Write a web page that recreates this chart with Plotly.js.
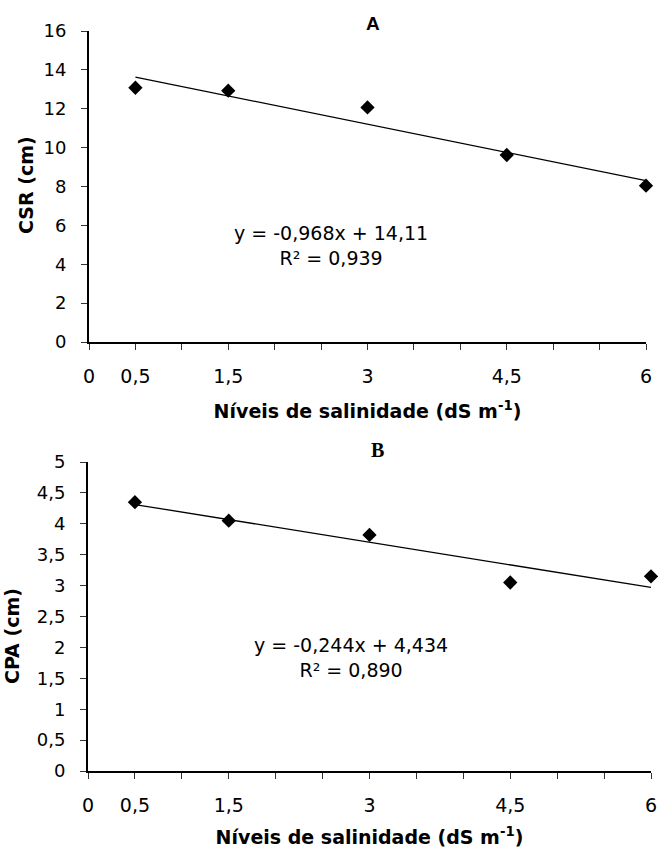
<!DOCTYPE html>
<html>
<head>
<meta charset="utf-8">
<script src="https://cdn.plot.ly/plotly-3.0.1.min.js"></script>
<style>html,body{margin:0;padding:0;background:#fff;}#chart{width:658px;height:848px;}</style>
</head>
<body>
<div id="chart"></div>
<script>
// Data
const salinity = [0.5, 1.5, 3, 4.5, 6];
const csr = [13.08, 12.93, 12.07, 9.62, 8.04];
const cpa = [4.35, 4.05, 3.82, 3.05, 3.15];
const csrFitSlope = -0.968, csrFitIntercept = 14.11;
const cpaFitSlope = -0.244, cpaFitIntercept = 4.434;
const fitX = [0.5, 6];
const xTickVals = [0, 0.5, 1.5, 3, 4.5, 6];
const xTickText = ['0', '0,5', '1,5', '3', '4,5', '6'];
const csrEquation = 'y = -0,968x + 14,11<br>R² = 0,939';
const cpaEquation = 'y = -0,244x + 4,434<br>R² = 0,890';

const font = 'DejaVu Sans, Liberation Sans, Arial, sans-serif';

const traces = [
  {x: salinity, y: csr, type: 'scatter', mode: 'markers', xaxis: 'x', yaxis: 'y', cliponaxis: false,
   marker: {symbol: 'diamond', size: 11, color: '#000'}},
  {x: fitX, y: fitX.map(v => csrFitSlope * v + csrFitIntercept), type: 'scatter', mode: 'lines',
   xaxis: 'x', yaxis: 'y', cliponaxis: false, line: {color: '#000', width: 1.3}},
  {x: salinity, y: cpa, type: 'scatter', mode: 'markers', xaxis: 'x2', yaxis: 'y2', cliponaxis: false,
   marker: {symbol: 'diamond', size: 11, color: '#000'}},
  {x: fitX, y: fitX.map(v => cpaFitSlope * v + cpaFitIntercept), type: 'scatter', mode: 'lines',
   xaxis: 'x2', yaxis: 'y2', cliponaxis: false, line: {color: '#000', width: 1.3}}
];

const xCommon = {
  range: [0, 6], tickmode: 'array', tickvals: xTickVals, ticktext: xTickText,
  showgrid: false, zeroline: false, showline: true, linecolor: '#000', linewidth: 1.5,
  ticks: 'outside', ticklen: 6, tickcolor: '#333', tickwidth: 1,
  minor: {dtick: 0.5, tick0: 0, ticks: 'outside', ticklen: 6, tickcolor: '#333', tickwidth: 1, showgrid: false},
  tickfont: {family: font, size: 19, color: '#000'}, ticklabelstandoff: 11,
  automargin: false
};
const yCommon = {
  showgrid: false, zeroline: false, showline: true, linecolor: '#000', linewidth: 2,
  ticks: 'outside', ticklen: 6, tickcolor: '#333', tickwidth: 1,
  tickfont: {family: font, size: 18, color: '#000'}, ticklabelstandoff: 11,
  automargin: false
};
const xTitle1 = {text: '<b>Níveis de salinidade (dS m<sup>-1</sup>)</b>', font: {family: font, size: 19, color: '#000'}, standoff: 18};
const xTitle2 = {text: '<b>Níveis de salinidade (dS m<sup>-1</sup>)</b>', font: {family: font, size: 19, color: '#000'}, standoff: 16};

const layout = {
  width: 658, height: 848,
  margin: {l: 0, r: 0, t: 0, b: 0},
  paper_bgcolor: '#fff', plot_bgcolor: '#fff',
  showlegend: false,
  separators: ',.',
  xaxis: Object.assign({}, xCommon, {domain: [89/658, 646/658], anchor: 'y', title: xTitle1}),
  yaxis: Object.assign({}, yCommon, {domain: [1 - 342/848, 1 - 31/848], anchor: 'x', range: [0, 16], dtick: 2}),
  xaxis2: Object.assign({}, xCommon, {domain: [88/658, 651/658], anchor: 'y2', title: xTitle2}),
  yaxis2: Object.assign({}, yCommon, {domain: [1 - 771/848, 1 - 462/848], anchor: 'x2', range: [0, 5], dtick: 0.5}),
  annotations: [
    {xref: 'paper', yref: 'paper', x: 26/658, y: 1 - 185/848, xanchor: 'center', yanchor: 'middle',
     text: '<b>CSR (cm)</b>', textangle: -90, showarrow: false, font: {family: font, size: 19, color: '#000'}},
    {xref: 'paper', yref: 'paper', x: 12/658, y: 1 - 636/848, xanchor: 'center', yanchor: 'middle',
     text: '<b>CPA (cm)</b>', textangle: -90, showarrow: false, font: {family: font, size: 19, color: '#000'}},
    {xref: 'x', yref: 'y', x: 2.61, y: 4.94, text: csrEquation, showarrow: false, align: 'center',
     font: {family: font, size: 19, color: '#000'}},
    {xref: 'x2', yref: 'y2', x: 2.80, y: 1.83, text: cpaEquation, showarrow: false, align: 'center',
     font: {family: font, size: 19, color: '#000'}},
    {xref: 'paper', yref: 'paper', x: 373/658, y: 1 - 23/848, xanchor: 'center', yanchor: 'middle',
     text: '<b>A</b>', showarrow: false, font: {family: 'Liberation Sans, Arial, sans-serif', size: 19, color: '#000'}},
    {xref: 'paper', yref: 'paper', x: 377/658, y: 1 - 450/848, xanchor: 'center', yanchor: 'middle',
     text: '<b>B</b>', showarrow: false, font: {family: 'Liberation Serif, Times New Roman, serif', size: 20, color: '#000'}}
  ]
};

Plotly.newPlot('chart', traces, layout, {displayModeBar: false, staticPlot: true});
</script>
</body>
</html>
